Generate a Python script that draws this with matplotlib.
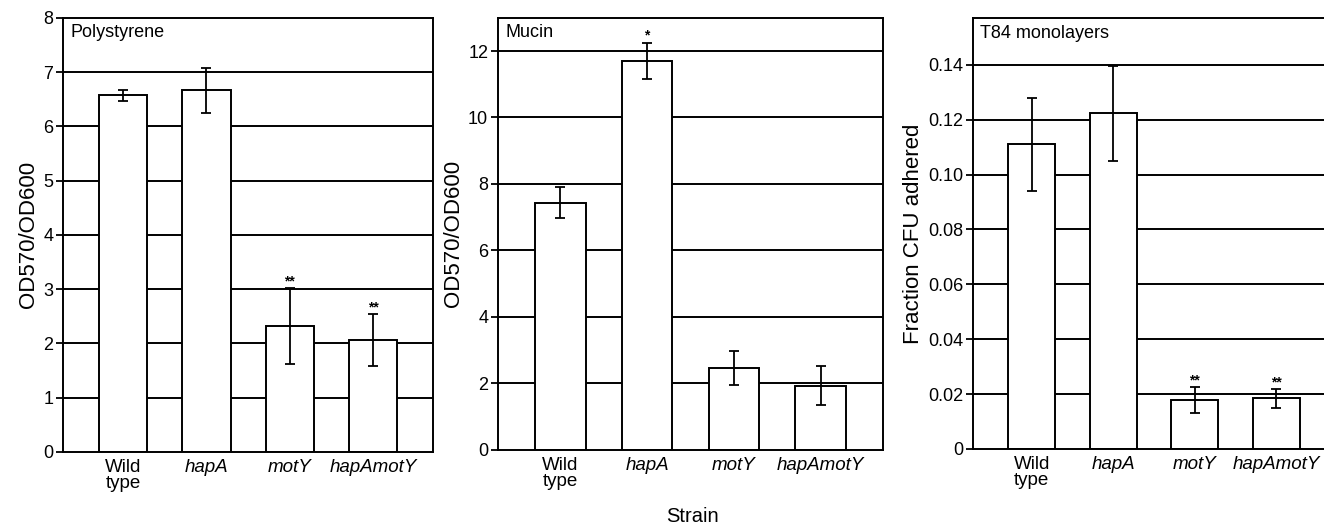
import matplotlib
matplotlib.use("Agg")
import matplotlib.pyplot as plt
import numpy as np

plt.rcParams['font.family'] = ['Liberation Sans', 'DejaVu Sans']

# -----------------------------------------------------------------------------
# data
# -----------------------------------------------------------------------------
strains = ["Wild\ntype", "hapA", "motY", "hapAmotY"]
italic  = [False, True, True, True]

poly_mean = [6.57, 6.66, 2.32, 2.06]
poly_err  = [0.10, 0.42, 0.70, 0.48]
poly_star = ["", "", "**", "**"]

mucin_mean = [7.44, 11.70, 2.47, 1.93]
mucin_err  = [0.47, 0.55, 0.51, 0.58]
mucin_star = ["", "*", "", ""]

t84_mean = [0.111, 0.1223, 0.0178, 0.0184]
t84_err  = [0.017, 0.0172, 0.0047, 0.0034]
t84_star = ["", "", "**", "**"]

panels = [
    ("Polystyrene", poly_mean, poly_err, poly_star, "OD570/OD600",
     np.arange(0, 9, 1), 8, lambda v: f"{v:g}"),
    ("Mucin", mucin_mean, mucin_err, mucin_star, "OD570/OD600",
     np.arange(0, 13, 2), 13, lambda v: f"{v:g}"),
    ("T84 monolayers", t84_mean, t84_err, t84_star, "Fraction CFU adhered",
     np.arange(0, 0.15, 0.02), 0.157, lambda v: "0" if v == 0 else f"{v:.2f}"),
]

# axes rectangles [left, bottom, width, height] in figure fractions
rects = [
    [0.0476, 0.136, 0.2795, 0.830],
    [0.3761, 0.140, 0.2908, 0.826],
    [0.7349, 0.1415, 0.2734, 0.824],
]

fig = plt.figure(figsize=(13.24, 5.23), dpi=100)
x = np.arange(len(strains))

for (title, mean, err, stars, ylab, ticks, ymax, fmt), rect in zip(panels, rects):
    ax = fig.add_axes(rect)
    ax.set_xlim(-0.72, 3.72)
    ax.set_ylim(0, ymax)

    # horizontal grid lines behind bars
    for t in ticks[1:]:
        if t < ymax:
            ax.axhline(t, color="black", lw=1.4, zorder=0)

    ax.bar(x, mean, width=0.58, color="white", edgecolor="black",
           linewidth=1.4, zorder=2)
    ax.errorbar(x, mean, yerr=err, fmt="none", ecolor="black",
                elinewidth=1.3, capsize=3.6, capthick=1.3, zorder=3)

    for xi, m, e, s in zip(x, mean, err, stars):
        if s:
            ax.annotate(s, (xi, m + e), xytext=(0, 0), textcoords="offset points",
                        ha="center", va="bottom", fontsize=10, fontweight="bold")

    ax.text(0.02, 0.985, title, transform=ax.transAxes, ha="left", va="top",
            fontsize=13)

    ax.set_yticks(ticks)
    ax.set_yticklabels([fmt(t) for t in ticks], fontsize=13)
    ax.set_xticks(x)
    ax.set_xticklabels(strains, fontsize=13.5, linespacing=0.95)
    for lab, it in zip(ax.get_xticklabels(), italic):
        if it:
            lab.set_style("italic")
    ax.tick_params(axis="x", length=0, pad=5)
    ax.tick_params(axis="y", direction="out", length=5, width=1.3, pad=2)
    for sp in ax.spines.values():
        sp.set_linewidth(1.4)
    ax.set_ylabel(ylab, fontsize=16, labelpad=3)

fig.text(0.523, -0.005, "Strain", ha="center", va="bottom", fontsize=14.5)

fig.savefig("out.png", dpi=100)
